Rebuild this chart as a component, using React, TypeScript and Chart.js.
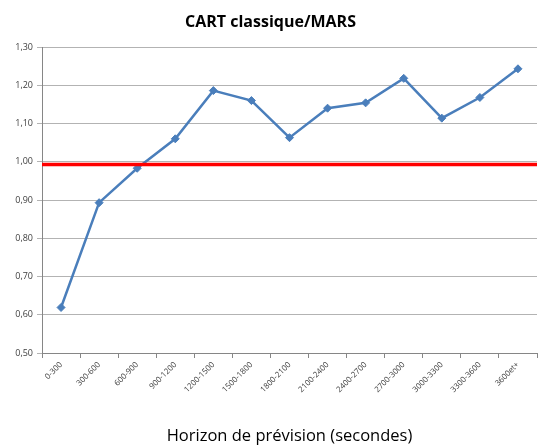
import React, { useEffect, useRef } from "react";
import { Chart, registerables } from "chart.js";

Chart.register(...registerables);

const categories = [
  "0-300", "300-600", "600-900", "900-1200", "1200-1500", "1500-1800", "1800-2100",
  "2100-2400", "2400-2700", "2700-3000", "3000-3300", "3300-3600", "3600et+",
];
const ratioValues = [0.619, 0.893, 0.983, 1.06, 1.186, 1.16, 1.063, 1.14, 1.154, 1.218, 1.114, 1.168, 1.243];
const referenceLevel = 0.993;
const yMin = 0.5;
const yMax = 1.3;
const yStep = 0.1;
const chartTitle = "CART classique/MARS";
const xTitle = "Horizon de prévision (secondes)";

const FONT = "'Open Sans', 'Noto Sans', sans-serif";

const refLinePlugin = {
  id: "refLine",
  afterDatasetsDraw(chart: any) {
    const { ctx, chartArea, scales } = chart;
    const y = scales.y.getPixelForValue(referenceLevel);
    ctx.save();
    ctx.strokeStyle = "#ff0000";
    ctx.lineWidth = 3.5;
    ctx.beginPath();
    ctx.moveTo(chartArea.left, y);
    ctx.lineTo(chartArea.right, y);
    ctx.stroke();
    ctx.restore();
  },
};

export default function App() {
  const ref = useRef<HTMLCanvasElement | null>(null);
  useEffect(() => {
    if (!ref.current) return;
    const chart = new Chart(ref.current, {
      type: "line",
      data: {
        labels: categories,
        datasets: [
          {
            label: "CART classique/MARS",
            data: ratioValues,
            borderColor: "#4a7ebb",
            backgroundColor: "#4a7ebb",
            borderWidth: 2.5,
            pointStyle: "rectRot",
            pointRadius: 4,
            pointBorderWidth: 1,
            tension: 0,
          },
        ],
      },
      options: {
        animation: false,
        responsive: false,
        devicePixelRatio: 1,
        layout: { padding: { left: 0, right: 1, top: 0, bottom: 0 } },
        plugins: {
          legend: { display: false },
          tooltip: { enabled: false },
          title: {
            display: true,
            text: chartTitle,
            color: "#000000",
            font: { family: FONT, size: 16, weight: "bold" },
            padding: { top: 13, bottom: 14.8 },
          },
        },
        scales: {
          x: {
            offset: true,
            grid: {
              drawOnChartArea: false,
              drawTicks: true,
              tickLength: 5,
              color: "#868686",
              offset: true,
            },
            border: { color: "#868686" },
            ticks: {
              autoSkip: false,
              maxRotation: 45,
              minRotation: 45,
              padding: 2,
              color: "#404040",
              font: { family: FONT, size: 8 },
            },
            title: {
              display: true,
              text: xTitle,
              color: "#000000",
              font: { family: FONT, size: 16.5 },
              padding: { top: 0, bottom: 2 },
            },
            afterFit(scale: any) {
              scale.height = 95;
            },
          },
          y: {
            min: yMin,
            max: yMax,
            grid: { color: "#b3b3b3", tickLength: 5 },
            border: { color: "#868686" },
            ticks: {
              stepSize: yStep,
              padding: 4,
              color: "#404040",
              font: { family: FONT, size: 9 },
              callback: (v: any) => Number(v).toFixed(2).replace(".", ","),
            },
            afterFit(scale: any) {
              scale.width = 42;
            },
          },
        },
      },
      plugins: [refLinePlugin],
    });
    return () => chart.destroy();
  }, []);
  return (
    <div style={{ position: "absolute", left: 0, top: 0, width: 542, height: 448, background: "#fff" }}>
      <canvas ref={ref} width={542} height={448} />
    </div>
  );
}
